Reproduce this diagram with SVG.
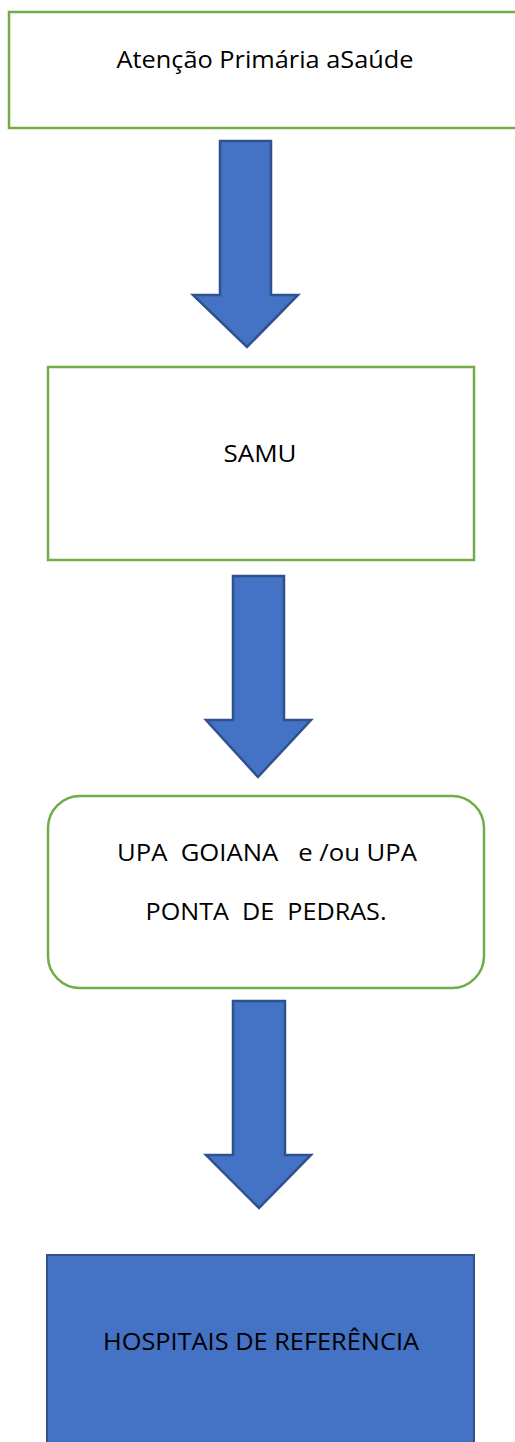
<svg xmlns="http://www.w3.org/2000/svg" width="515" height="1442" viewBox="0 0 515 1442">
<style>
.box{fill:#ffffff;stroke:#70AD47;stroke-width:2.5}
.arrow{fill:#4472C4;stroke:#2F528F;stroke-width:2.5;stroke-linejoin:miter}
.lbl{font-family:"Open Sans","Liberation Sans",sans-serif;font-size:24px;fill:#000000;text-anchor:middle}
</style>
<rect width="515" height="1442" fill="#ffffff"/>
<g id="node-aps">
<rect class="box" x="9" y="12" width="520" height="116"/>
<text class="lbl" x="265" y="68" textLength="297" lengthAdjust="spacingAndGlyphs">Atenção Primária aSaúde</text>
</g>
<g id="node-samu">
<rect class="box" x="48" y="367" width="426" height="193"/>
<text class="lbl" x="260" y="462" textLength="73" lengthAdjust="spacingAndGlyphs">SAMU</text>
</g>
<g id="node-upa">
<rect class="box" x="48" y="796" width="436" height="192" rx="32" ry="32"/>
<text class="lbl" x="267" y="861" xml:space="preserve" textLength="300" lengthAdjust="spacingAndGlyphs">UPA  GOIANA   e /ou UPA</text>
<text class="lbl" x="266" y="920" xml:space="preserve" textLength="241" lengthAdjust="spacingAndGlyphs">PONTA  DE  PEDRAS.</text>
</g>
<g id="node-hospitais">
<rect x="47" y="1255" width="427" height="200" fill="#4472C4" stroke="#2F528F" stroke-width="2"/>
<text class="lbl" x="261" y="1350" textLength="316" lengthAdjust="spacingAndGlyphs">HOSPITAIS DE REFERÊNCIA</text>
</g>
<g id="connectors">
<path class="arrow" d="M220,141 L271,141 L271,295 L298,295 L247,347 L193,295 L220,295 Z"/>
<path class="arrow" d="M233,576 L284,576 L284,720 L311,720 L258,777 L206,720 L233,720 Z"/>
<path class="arrow" d="M233,1001 L285,1001 L285,1155 L311,1155 L259,1208 L206,1155 L233,1155 Z"/>
</g>
</svg>
